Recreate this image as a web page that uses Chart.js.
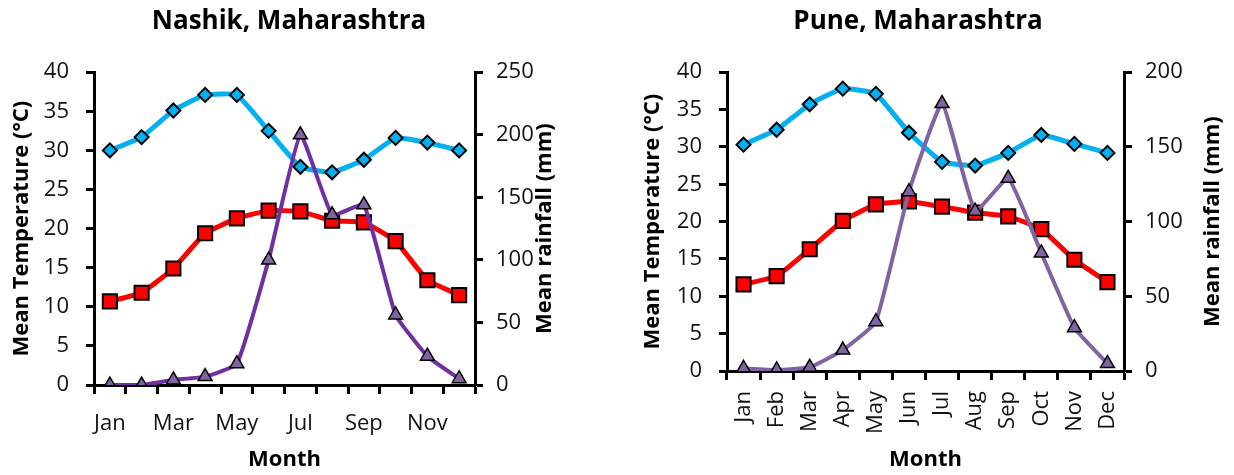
<!DOCTYPE html>
<html lang="en">
<head>
<meta charset="UTF-8">
<title>Climate - Nashik and Pune</title>
<script src="https://cdn.jsdelivr.net/npm/chart.js"></script>
<style>
  body { margin: 0; background: #fff; width: 1234px; height: 475px; position: relative; overflow: hidden; }
  .box { position: absolute; top: 0; height: 475px; }
  #nashikBox { left: 0; width: 578px; }
  #puneBox { left: 602px; width: 632px; }
</style>
</head>
<body>
<div class="box" id="nashikBox"><canvas id="nashikChart" width="578" height="475"></canvas></div>
<div class="box" id="puneBox"><canvas id="puneChart" width="632" height="475"></canvas></div>

<script>
const months = ['Jan', 'Feb', 'Mar', 'Apr', 'May', 'Jun', 'Jul', 'Aug', 'Sep', 'Oct', 'Nov', 'Dec'];
const tempTicks = [0, 5, 10, 15, 20, 25, 30, 35, 40];
const nashikRainTicks = [0, 50, 100, 150, 200, 250];
const puneRainTicks = [0, 50, 100, 150, 200];

const nashikMaxTemp = [30.0, 31.7, 35.1, 37.1, 37.1, 32.5, 27.9, 27.2, 28.8, 31.6, 31.0, 30.0];
const nashikMinTemp = [10.7, 11.8, 14.9, 19.4, 21.3, 22.3, 22.2, 21.0, 20.8, 18.4, 13.4, 11.5];
const nashikRain = [0, 0, 4, 6.7, 17, 100, 200, 136, 144, 56, 23, 5];

const puneMaxTemp = [30.3, 32.3, 35.7, 37.8, 37.1, 31.9, 28.0, 27.5, 29.2, 31.6, 30.4, 29.2];
const puneMinTemp = [11.6, 12.7, 16.3, 20.1, 22.3, 22.7, 22.0, 21.2, 20.7, 19.0, 14.9, 11.9];
const puneRain = [1.8, 0.7, 2.5, 14, 33, 120, 179, 107, 129, 79, 29, 5];

const FONT = '"Open Sans", "DejaVu Sans", sans-serif';

// axis titles drawn by hand so the right one reads bottom-to-top like the original
const axisTitles = {
    id: 'axisTitles',
    afterDraw(chart, args, opts) {
        const ctx = chart.ctx;
        const area = chart.chartArea;
        const midY = (area.top + area.bottom) / 2;
        ctx.save();
        ctx.fillStyle = '#000';
        ctx.font = 'bold 22px ' + FONT;
        ctx.textAlign = 'center';
        ctx.textBaseline = 'middle';
        ctx.fillText(opts.x, (area.left + area.right) / 2, opts.bottomY);
        [[opts.left, opts.leftX], [opts.right, opts.rightX]].forEach(([text, x]) => {
            ctx.save();
            ctx.translate(x, midY);
            ctx.rotate(-Math.PI / 2);
            ctx.fillText(text, 0, 0);
            ctx.restore();
        });
        ctx.restore();
    }
};

function axisStyle(width) {
    return {
        border: { display: true, color: '#000', width: 3 },
        grid: { display: true, drawOnChartArea: false, drawTicks: true, tickLength: 8, tickWidth: 3, tickColor: '#000' },
        afterFit(scale) { scale.width = width; }
    };
}

function makeChart(id, cfg) {
    const ctx = document.getElementById(id).getContext('2d');
    const yl = axisStyle(cfg.leftWidth);
    const yr = axisStyle(cfg.rightWidth);
    return new Chart(ctx, {
        type: 'line',
        data: {
            labels: months,
            datasets: [{
                label: 'Rainfall',
                data: cfg.rain,
                yAxisID: 'yRain',
                order: 0,
                borderColor: cfg.rainLine,
                borderWidth: 4,
                tension: 0.12,
                pointStyle: 'triangle',
                pointRadius: 8,
                pointBackgroundColor: '#8064A2',
                pointBorderColor: '#000',
                pointBorderWidth: 1.5
            }, {
                label: 'Max temperature',
                data: cfg.max,
                yAxisID: 'yTemp',
                order: 1,
                borderColor: '#00B0F0',
                borderWidth: 5,
                tension: 0.12,
                pointStyle: 'rectRot',
                pointRadius: 7,
                pointBackgroundColor: '#00B0F0',
                pointBorderColor: '#000',
                pointBorderWidth: 2
            }, {
                label: 'Min temperature',
                data: cfg.min,
                yAxisID: 'yTemp',
                order: 2,
                borderColor: '#FF0000',
                borderWidth: 5,
                tension: 0.12,
                pointStyle: 'rect',
                pointRadius: 10,
                pointBackgroundColor: '#FF0000',
                pointBorderColor: '#000',
                pointBorderWidth: 2
            }]
        },
        options: {
            responsive: false,
            devicePixelRatio: 1,
            animation: false,
            layout: { padding: 0 },
            plugins: {
                legend: { display: false },
                tooltip: { enabled: false },
                title: {
                    display: true,
                    text: cfg.title,
                    color: '#000',
                    font: { family: FONT, size: 26, weight: 'bold' },
                    padding: { top: 6, bottom: 35 }
                },
                axisTitles: {
                    x: 'Month',
                    left: 'Mean Temperature (°C)',
                    right: 'Mean rainfall (mm)',
                    leftX: cfg.leftTitleX,
                    rightX: cfg.rightTitleX,
                    bottomY: 460
                }
            },
            scales: {
                x: {
                    type: 'category',
                    offset: true,
                    border: { display: true, color: '#000', width: 3 },
                    grid: { display: true, offset: true, drawOnChartArea: false, tickLength: 9, tickWidth: 3, tickColor: '#000' },
                    ticks: {
                        autoSkip: false,
                        color: '#111',
                        font: { family: FONT, size: 22 },
                        padding: cfg.xPad,
                        maxRotation: cfg.rotate,
                        minRotation: cfg.rotate,
                        callback: (v, i) => (i % cfg.every === 0 ? months[i] : '')
                    },
                    afterFit(scale) { scale.height = cfg.xHeight; }
                },
                yTemp: Object.assign(yl, {
                    position: 'left',
                    min: tempTicks[0],
                    max: tempTicks[tempTicks.length - 1],
                    ticks: { stepSize: tempTicks[1] - tempTicks[0], color: '#111', font: { family: FONT, size: 22 }, padding: 17 }
                }),
                yRain: Object.assign(yr, {
                    position: 'right',
                    min: cfg.rainTicks[0],
                    max: cfg.rainTicks[cfg.rainTicks.length - 1],
                    ticks: { stepSize: cfg.rainTicks[1] - cfg.rainTicks[0], color: '#111', font: { family: FONT, size: 22 }, padding: 13 }
                })
            }
        },
        plugins: [axisTitles]
    });
}

makeChart('nashikChart', {
    title: 'Nashik, Maharashtra',
    max: nashikMaxTemp, min: nashikMinTemp, rain: nashikRain,
    rainTicks: nashikRainTicks, rainLine: '#7030A0',
    leftWidth: 94, rightWidth: 103, xHeight: 90,
    every: 2, rotate: 0, xPad: 17,
    leftTitleX: 22, rightTitleX: 545
});

makeChart('puneChart', {
    title: 'Pune, Maharashtra',
    max: puneMaxTemp, min: puneMinTemp, rain: puneRain,
    rainTicks: puneRainTicks, rainLine: '#8064A2',
    leftWidth: 125, rightWidth: 110, xHeight: 104,
    every: 1, rotate: 90, xPad: 11,
    leftTitleX: 51, rightTitleX: 611
});
</script>
</body>
</html>
